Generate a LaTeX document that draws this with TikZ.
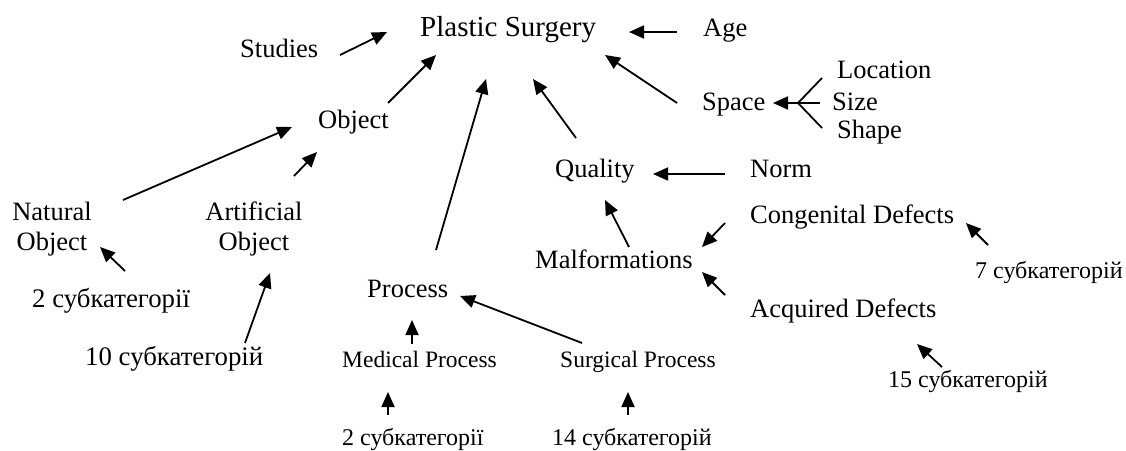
\documentclass[tikz,border=0pt]{standalone}
\usepackage{fontspec}
\setmainfont{Liberation Serif}
\usetikzlibrary{arrows.meta}
\newcommand{\fsmain}{\fontsize{26.5}{30}\selectfont}
\newcommand{\fstitle}{\fontsize{29}{33}\selectfont}
\newcommand{\fsproc}{\fontsize{23.5}{27}\selectfont}
\newcommand{\fssubA}{\fontsize{26.8}{30}\selectfont}
\newcommand{\fssubB}{\fontsize{24}{28}\selectfont}
\begin{document}
\begin{tikzpicture}[x=1pt,y=-1pt,
  lbl/.style={anchor=base west,inner sep=0pt,font=\fsmain},
  two/.style={anchor=base,inner sep=0pt,font=\fsmain,align=center},
  arr/.style={line width=1.8pt,-{Triangle[length=15pt,width=13pt]}},
  ln/.style={line width=1.8pt}]
\useasboundingbox[fill=white] (0,0) rectangle (1126,450);
% nodes
\node[lbl,font=\fstitle] (ps) at (420,36) {Plastic Surgery};
\node[lbl] (age) at (703,36) {Age};
\node[lbl] (studies) at (240,57) {Studies};
\node[lbl] (object) at (318,128) {Object};
\node[lbl] (location) at (837,78) {Location};
\node[lbl] (space) at (702,110) {Space};
\node[lbl] (size) at (832,110) {Size};
\node[lbl] (shape) at (837,138) {Shape};
\node[lbl] (quality) at (555,177) {Quality};
\node[lbl] (norm) at (750,177) {Norm};
\node[two] (natobj) at (52,250) {Natural\\Object};
\node[two] (artobj) at (254,250) {Artificial\\Object};
\node[lbl] (congenital) at (750,223) {Congenital Defects};
\node[lbl] (malf) at (535,268) {Malformations};
\node[lbl,font=\fssubB] (sub7) at (975,278) {7 субкатегорій};
\node[lbl,font=\fssubA] (sub2a) at (32,307) {2 субкатегорії};
\node[lbl] (process) at (367,297) {Process};
\node[lbl] (acquired) at (750,317) {Acquired Defects};
\node[lbl,font=\fssubA] (sub10) at (85,365) {10 субкатегорій};
\node[lbl,font=\fsproc] (medical) at (342,367) {Medical Process};
\node[lbl,font=\fsproc] (surgical) at (560,367) {Surgical Process};
\node[lbl,font=\fssubB] (sub15) at (888,387) {15 субкатегорій};
\node[lbl,font=\fssubB] (sub2b) at (342,445) {2 субкатегорії};
\node[lbl,font=\fssubB] (sub14) at (552,445) {14 субкатегорій};
% connector end points
\coordinate (studiesT) at (340,55);   \coordinate (studiesH) at (387,32);
\coordinate (objectT) at (388,103);   \coordinate (objectH) at (436,55);
\coordinate (ageT) at (677,32);       \coordinate (ageH) at (629,32);
\coordinate (spaceT) at (677,103);    \coordinate (spaceH) at (605,55);
\coordinate (qualityT) at (576,138);  \coordinate (qualityH) at (533,79);
\coordinate (processT) at (436,250);  \coordinate (processH) at (486,79);
\coordinate (natT) at (123,200);      \coordinate (natH) at (292,127);
\coordinate (artT) at (294,176);      \coordinate (artH) at (317,152);
\coordinate (normT) at (725,174);     \coordinate (normH) at (653,174);
\coordinate (malfT) at (629,247);     \coordinate (malfH) at (605,200);
\coordinate (congT) at (725,223);     \coordinate (congH) at (702,247);
\coordinate (acqT) at (725,295);      \coordinate (acqH) at (702,272);
\coordinate (sevenT) at (988,245);    \coordinate (sevenH) at (966,223);
\coordinate (fifteenT) at (942,367);  \coordinate (fifteenH) at (917,344);
\coordinate (twoaT) at (125,271);     \coordinate (twoaH) at (100,247);
\coordinate (tenT) at (245,343);      \coordinate (tenH) at (270,273);
\coordinate (medT) at (412,344);      \coordinate (medH) at (412,320);
\coordinate (surgT) at (582,343);     \coordinate (surgH) at (460,296);
\coordinate (twobT) at (388,415);     \coordinate (twobH) at (388,392);
\coordinate (fourteenT) at (628,415); \coordinate (fourteenH) at (628,392);
\coordinate (sizeT) at (820,103);     \coordinate (spaceIn) at (773,103);
\coordinate (fork) at (798,103);
\coordinate (locT) at (822,78);       \coordinate (shapeT) at (822,128);
% connectors
\draw[arr] (studiesT) -- (studiesH);
\draw[arr] (objectT) -- (objectH);
\draw[arr] (ageT) -- (ageH);
\draw[arr] (spaceT) -- (spaceH);
\draw[arr] (qualityT) -- (qualityH);
\draw[arr] (processT) -- (processH);
\draw[arr] (natT) -- (natH);
\draw[arr] (artT) -- (artH);
\draw[arr] (normT) -- (normH);
\draw[arr] (malfT) -- (malfH);
\draw[arr] (congT) -- (congH);
\draw[arr] (acqT) -- (acqH);
\draw[arr] (sevenT) -- (sevenH);
\draw[arr] (fifteenT) -- (fifteenH);
\draw[arr] (twoaT) -- (twoaH);
\draw[arr] (tenT) -- (tenH);
\draw[arr] (medT) -- (medH);
\draw[arr] (surgT) -- (surgH);
\draw[arr] (twobT) -- (twobH);
\draw[arr] (fourteenT) -- (fourteenH);
\draw[arr] (sizeT) -- (spaceIn);
\draw[ln] (locT) -- (fork) -- (shapeT);
\end{tikzpicture}
\end{document}
